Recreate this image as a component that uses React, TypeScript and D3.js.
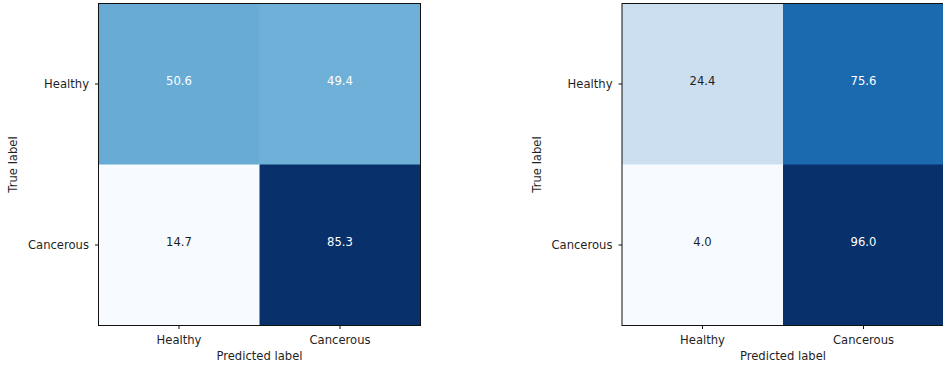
import React from "react";
import * as d3 from "d3";

const classes = ["Healthy", "Cancerous"];
const leftMatrix = [
  [50.6, 49.4],
  [14.7, 85.3],
];
const rightMatrix = [
  [24.4, 75.6],
  [4.0, 96.0],
];
const bluesStops = ["#f7fbff", "#deebf7", "#c6dbef", "#9ecae1", "#6baed6", "#4292c6", "#2171b5", "#08519c", "#08306b"];

const W = 943;
const H = 368;
const FONT = "DejaVu Sans, sans-serif";
const FS = 11.6;
const TEXT = "#1f1f1f";

function Matrix({ x0, y0, size, values }: { x0: number; y0: number; size: number; values: number[][] }) {
  const xs = d3.scaleBand<string>().domain(classes).range([x0, x0 + size]);
  const ys = d3.scaleBand<string>().domain(classes).range([y0, y0 + size]);
  const flat = values.flat();
  const vmin = d3.min(flat)!;
  const vmax = d3.max(flat)!;
  const norm = d3.scaleLinear().domain([vmin, vmax]).range([0, 1]);
  const cmap = d3
    .scaleLinear<string>()
    .domain(bluesStops.map((_, i) => i / (bluesStops.length - 1)))
    .range(bluesStops)
    .interpolate(d3.interpolateRgb);
  const fmt = d3.format(".1f");
  const bw = xs.bandwidth();
  const cy = y0 + size / 2;
  return (
    <g>
      {classes.map((rowName, i) =>
        classes.map((colName, j) => {
          const v = values[i][j];
          const t = norm(v);
          return (
            <g key={`${i}-${j}`}>
              <rect x={xs(colName)} y={ys(rowName)} width={bw + 0.5} height={ys.bandwidth() + 0.5} fill={cmap(t)} />
              <text
                x={xs(colName)! + bw / 2}
                y={ys(rowName)! + ys.bandwidth() / 2 - 3}
                textAnchor="middle"
                dominantBaseline="central"
                fontFamily={FONT}
                fontSize={FS}
                fill={t >= 0.45 ? "#ffffff" : TEXT}
              >
                {fmt(v)}
              </text>
            </g>
          );
        })
      )}
      <rect x={x0} y={y0} width={size} height={size} fill="none" stroke="#111" strokeWidth={1} />
      {classes.map((c) => (
        <g key={"xt" + c}>
          <line x1={xs(c)! + bw / 2} x2={xs(c)! + bw / 2} y1={y0 + size} y2={y0 + size + 3.5} stroke="#111" />
          <text x={xs(c)! + bw / 2} y={y0 + size + 18} textAnchor="middle" fontFamily={FONT} fontSize={FS} fill={TEXT}>
            {c}
          </text>
        </g>
      ))}
      {classes.map((c) => (
        <g key={"yt" + c}>
          <line x1={x0 - 3.5} x2={x0} y1={ys(c)! + ys.bandwidth() / 2} y2={ys(c)! + ys.bandwidth() / 2} stroke="#111" />
          <text
            x={x0 - 9.5}
            y={ys(c)! + ys.bandwidth() / 2}
            textAnchor="end"
            dominantBaseline="central"
            fontFamily={FONT}
            fontSize={FS}
            fill={TEXT}
          >
            {c}
          </text>
        </g>
      ))}
      <text x={x0 + size / 2} y={y0 + size + 34.5} textAnchor="middle" fontFamily={FONT} fontSize={FS} fill={TEXT}>
        Predicted label
      </text>
      <text
        transform={`translate(${x0 - 81.5},${cy}) rotate(-90)`}
        textAnchor="middle"
        fontFamily={FONT}
        fontSize={FS}
        fill={TEXT}
      >
        True label
      </text>
    </g>
  );
}

export default function App() {
  return (
    <svg
      width={W}
      height={H}
      style={{ position: "absolute", left: 0, top: 0, background: "#fff" }}
    >
      <rect width={W} height={H} fill="#fff" />
      <Matrix x0={98.5} y0={3.5} size={322} values={leftMatrix} />
      <Matrix x0={622} y0={3.5} size={322} values={rightMatrix} />
    </svg>
  );
}
